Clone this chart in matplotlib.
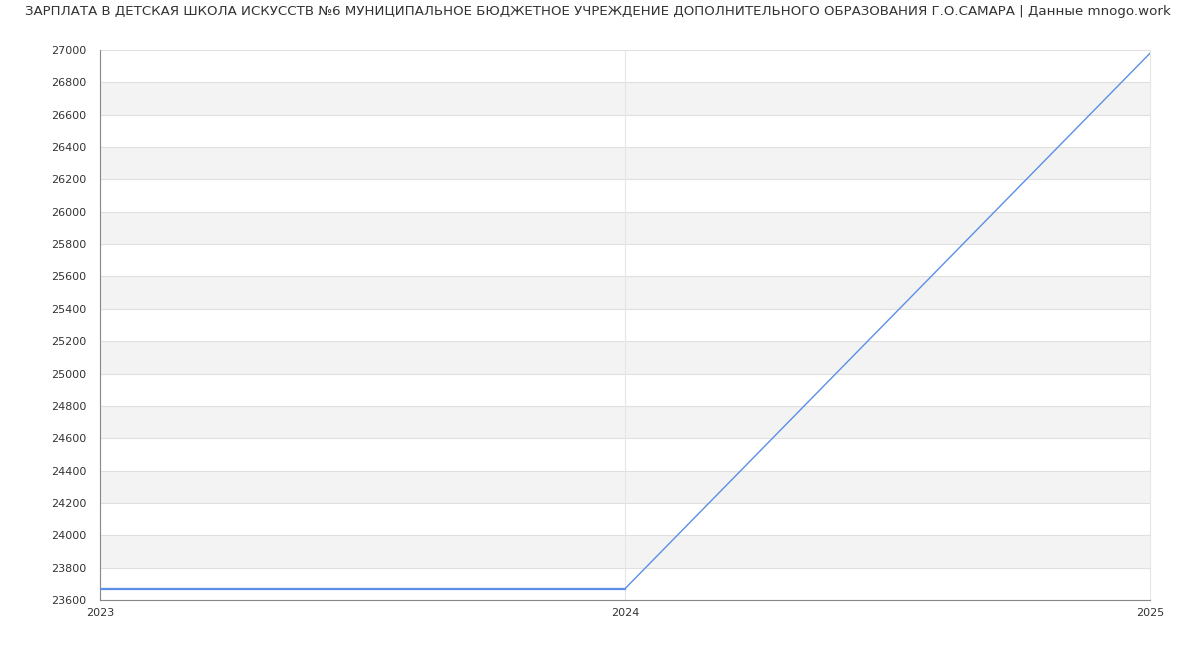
import matplotlib
matplotlib.use("Agg")
import matplotlib.pyplot as plt

# data
years = [2023, 2024, 2025]
salary = [23670, 23670, 26980]
yticks = list(range(23600, 27001, 200))

fig = plt.figure(figsize=(12, 6.5), dpi=100)
ax = fig.add_axes([100/1200, 50/650, 1050/1200, 550/650])

# alternating gray bands
for lo in range(23800, 27000, 400):
    ax.axhspan(lo, lo + 200, color="#f3f3f3", zorder=0, lw=0)
for y in yticks:
    ax.axhline(y, color="#e0e0e0", lw=0.8, zorder=1)
for x in years:
    ax.axvline(x, color="#e6e6e6", lw=0.8, zorder=1, clip_on=False)

ax.plot(years, salary, color="#5b8fe6", lw=1.0, zorder=3)
ax.plot(years[:2], salary[:2], color="#5b8fe6", lw=1.6, zorder=3)

ax.set_xlim(2023, 2025)
ax.set_ylim(23600, 27000)
ax.set_xticks(years)
ax.set_xticklabels([str(y) for y in years])
ax.set_yticks(yticks)
ax.tick_params(axis="both", labelsize=8, colors="#333333", length=0)
ax.tick_params(axis="y", pad=10)
ax.tick_params(axis="x", pad=6)
for lab in ax.get_xticklabels():
    lab.set_horizontalalignment("center")
    lab.set_x(lab.get_position()[0])

for s in ["top", "right"]:
    ax.spines[s].set_visible(False)
ax.spines["left"].set_color("#888888")
ax.spines["bottom"].set_color("#888888")

fig.text(0.5 - 2/1200, 1 - 12/650,
         "ЗАРПЛАТА В ДЕТСКАЯ ШКОЛА ИСКУССТВ №6 МУНИЦИПАЛЬНОЕ БЮДЖЕТНОЕ УЧРЕЖДЕНИЕ ДОПОЛНИТЕЛЬНОГО ОБРАЗОВАНИЯ Г.О.САМАРА | Данные mnogo.work",
         ha="center", va="center", fontsize=9.68, color="#333333")

fig.savefig("out.png", dpi=100)
